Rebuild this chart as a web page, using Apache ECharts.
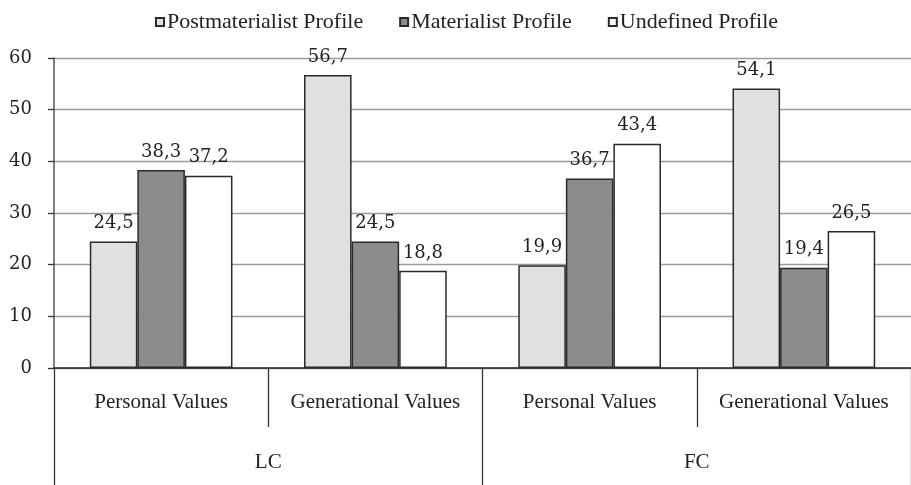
<!DOCTYPE html>
<html>
<head>
<meta charset="utf-8">
<script src="https://cdn.jsdelivr.net/npm/echarts@6/dist/echarts.min.js"></script>
<style>
  html, body { margin: 0; padding: 0; background: #fff; }
  #main { width: 911px; height: 485px; }
</style>
</head>
<body>
<div id="main"></div>
<script>
const categories = ["Personal Values", "Generational Values", "Personal Values", "Generational Values"];
const groups = ["LC", "FC"];
const postmaterialist = [24.5, 56.7, 19.9, 54.1];
const materialist = [38.3, 24.5, 36.7, 19.4];
const undefinedProfile = [37.2, 18.8, 43.4, 26.5];

const serif = "Liberation Serif";
const numFont = "DejaVu Serif";

function bar(name, data, color) {
  return {
    name: name,
    type: "bar",
    data: data,
    barWidth: "22.2%",
    barGap: "0%",
    itemStyle: { color: color, borderColor: "#2a2a2a", borderWidth: 1.5 },
    label: {
      show: true,
      position: "top",
      distance: 9,
      fontFamily: numFont,
      fontSize: 18,
      color: "#222",
      formatter: (p) => String(p.value).replace(".", ","),
    },
  };
}

const chart = echarts.init(document.getElementById("main"));
chart.setOption({
  animation: false,
  legend: {
    top: 6,
    left: 150,
    itemWidth: 8,
    itemHeight: 8,
    itemGap: 36,
    icon: "rect",
    textStyle: { fontFamily: serif, fontSize: 22, color: "#222", padding: [0, 0, 0, -2] },
  },
  grid: { left: 54, top: 58, width: 860, height: 310 },
  xAxis: [
    {
      type: "category",
      data: categories,
      axisLine: { lineStyle: { color: "#222", width: 1.5 } },
      axisTick: { show: true, length: 59, interval: 0, lineStyle: { color: "#333", width: 1.3 } },
      axisLabel: { fontFamily: serif, fontSize: 21, color: "#222", margin: 24, interval: 0 },
    },
    {
      type: "category",
      position: "bottom",
      offset: 59,
      data: groups,
      axisLine: { show: false },
      axisTick: { show: true, length: 58, interval: 0, lineStyle: { color: "#333", width: 1.3 } },
      axisLabel: { fontFamily: serif, fontSize: 21, color: "#222", margin: 25 },
    },
  ],
  yAxis: {
    type: "value",
    min: 0,
    max: 60,
    interval: 10,
    axisLine: { show: true, lineStyle: { color: "#555", width: 1.5 } },
    axisTick: { show: true, length: 6, lineStyle: { color: "#333", width: 1.3 } },
    axisLabel: { fontFamily: numFont, fontSize: 18, color: "#222", margin: 22 },
    splitLine: { lineStyle: { color: "#9a9a9a", width: 1.3 } },
  },
  series: [
    bar("Postmaterialist Profile", postmaterialist, "#e0e0e0"),
    bar("Materialist Profile", materialist, "#8c8c8c"),
    bar("Undefined Profile", undefinedProfile, "#ffffff"),
  ],
});
</script>
</body>
</html>
